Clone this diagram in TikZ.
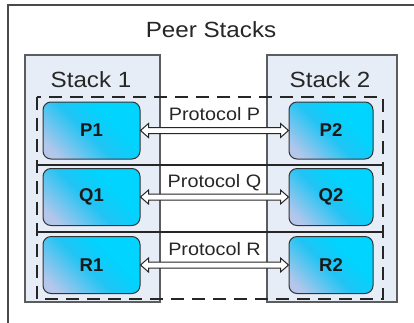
\documentclass[tikz,border=0pt]{standalone}
\usepackage{fontspec}
\setmainfont{Liberation Sans}[FakeStretch=1.1]
\newfontfamily\lblfont{Liberation Sans}
\usetikzlibrary{calc}
\definecolor{framegray}{HTML}{4A4A4A}
\definecolor{stackfill}{HTML}{E7EDF7}
\definecolor{stackline}{HTML}{5C5C5C}
\definecolor{cyanA}{HTML}{00D4FF}
\definecolor{cyanB}{HTML}{20C4F4}
\definecolor{cyanC}{HTML}{B4C6EA}
\definecolor{boxline}{HTML}{333333}
\pgfdeclareverticalshading{layershade}{100bp}{color(0bp)=(cyanC); color(22bp)=(cyanC); color(47bp)=(cyanB); color(64bp)=(cyanA); color(100bp)=(cyanA)}
\begin{document}
\begin{tikzpicture}[x=1pt,y=-1pt,
  stackbox/.style={draw=stackline, fill=stackfill, line width=1.3pt, inner sep=0pt, minimum height=247pt},
  layerbox/.style={draw=boxline, line width=1pt, rounded corners=8pt, inner sep=0pt,
     shade, shading=layershade, shading angle=-45,
     minimum height=57pt, font=\lblfont\bfseries\fontsize{18.5}{20}\selectfont, text=black!90},
  stacktitle/.style={anchor=base, font=\fontsize{22}{26}\selectfont, text=black!85},
  protolabel/.style={anchor=base, font=\fontsize{18}{20}\selectfont, text=black!85},
  arrowshape/.style={draw=black!85, fill=white, line width=1pt, line join=miter},
  rowline/.style={draw=black!85, line width=1.2pt},
  rowdash/.style={draw=black!85, line width=1.2pt, dash pattern=on 13pt off 8pt}
]
\useasboundingbox (0,0) rectangle (414,322);
\fill[white] (0,0) rectangle (414,322);
% outer frame
\draw[framegray, line width=1.3pt] (8,340) -- (8,5) -- (430,5);
% stacks
\node[stackbox, minimum width=135pt] (stack1) at (92.5,178.5) {};
\node[stackbox, minimum width=130pt] (stack2) at (332,178.5) {};
% row frames
\draw[rowdash] (37,97) rectangle (383,299);
\draw[rowline] (37,165) -- (383,165);
\draw[rowline] (37,232) -- (383,232);
% titles
\node[stacktitle] (title) at (211,37) {Peer Stacks};
\node[stacktitle] (s1label) at (91,87) {Stack 1};
\node[stacktitle] (s2label) at (330,87) {Stack 2};
% layers
\node[layerbox, minimum width=97pt] (P1) at (91.5,130.5) {P1};
\node[layerbox, minimum width=84pt] (P2) at (331,130.5) {P2};
\node[layerbox, minimum width=97pt] (Q1) at (91.5,197) {Q1};
\node[layerbox, minimum width=84pt] (Q2) at (331,197) {Q2};
\node[layerbox, minimum width=97pt] (R1) at (91.5,265) {R1};
\node[layerbox, minimum width=84pt] (R2) at (331,265) {R2};
% arrows
\foreach \a/\b/\t in {P1/P2/Protocol P, Q1/Q2/Protocol Q, R1/R2/Protocol R}{
  \draw[arrowshape] (\a.east) -- ++(8,-7) -- ++(0,4) -- ($(\b.west)+(-8,-3)$) -- ++(0,-4)
     -- (\b.west) -- ++(-8,7) -- ++(0,-4) -- ($(\a.east)+(8,3)$) -- ++(0,4) -- cycle;
  \node[protolabel] at ($(\a.east)!0.5!(\b.west)+(0,-10)$) {\t};
}
\end{tikzpicture}
\end{document}
